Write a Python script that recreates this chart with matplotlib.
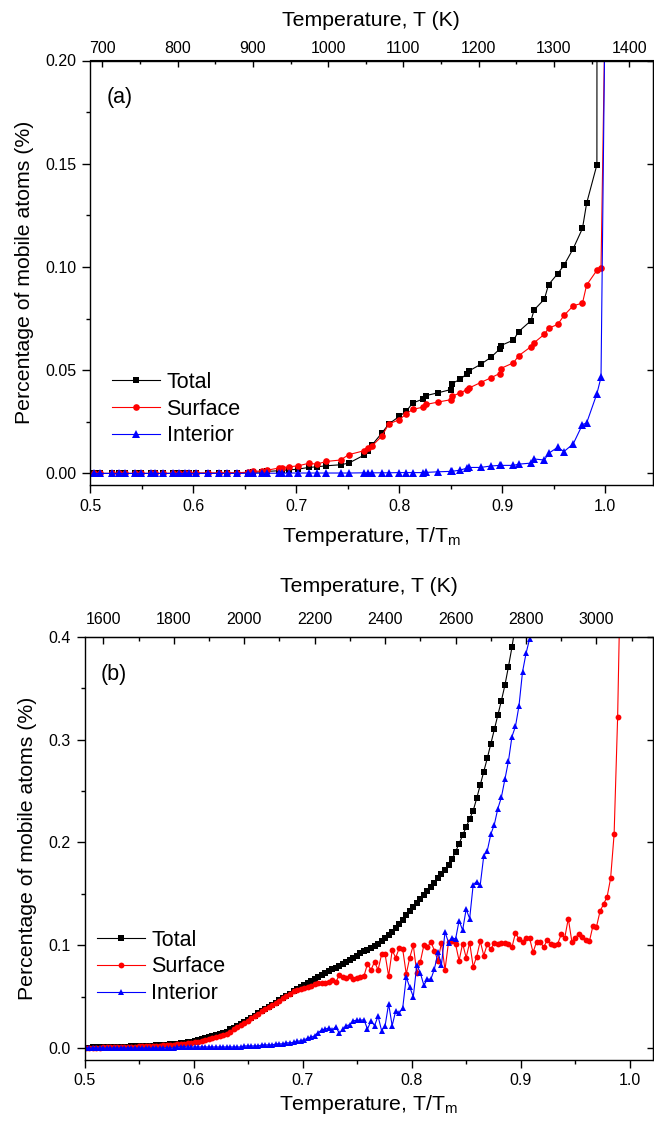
import numpy as np
import matplotlib
matplotlib.use('Agg')
import matplotlib.pyplot as plt
from matplotlib.ticker import MultipleLocator, FormatStrFormatter, NullLocator, FixedLocator

plt.rcParams['font.family'] = ['Liberation Sans', 'DejaVu Sans']
plt.rcParams['mathtext.fontset'] = 'custom'
plt.rcParams['mathtext.rm'] = 'Liberation Sans'

# ---------------- Panel (a) data ----------------
tm_a = 1368.0  # K, for top axis
ticks_k_a = [700, 800, 900, 1000, 1100, 1200, 1300, 1400]
x_a = [0.504, 0.509, 0.521, 0.528, 0.534, 0.543, 0.549, 0.559, 0.563, 0.571,
       0.580, 0.586, 0.592, 0.596, 0.603, 0.614, 0.625, 0.633, 0.642, 0.653,
       0.658, 0.667, 0.672, 0.683, 0.686, 0.693, 0.702, 0.712, 0.720, 0.729,
       0.743, 0.751, 0.766, 0.770, 0.774, 0.783, 0.790, 0.800, 0.807, 0.813,
       0.823, 0.826, 0.838, 0.850, 0.851, 0.859, 0.866, 0.868, 0.879, 0.889,
       0.8975, 0.8985, 0.911, 0.916, 0.928, 0.931, 0.941, 0.945, 0.954, 0.960,
       0.969, 0.978, 0.982, 0.992, 0.996, 1.000]
total_a = [0, 0, 0, 0, 0, 0, 0, 0, 0, 0,
           0, 0, 0.0001, 0.0001, 0.0001, 0.0001, 0.0001, 0.0002, 0.0002, 0.0004,
           0.0005, 0.0008, 0.0010, 0.0013, 0.0015, 0.0017, 0.0021, 0.0029, 0.0032, 0.0037,
           0.0042, 0.0050, 0.0089, 0.0110, 0.0140, 0.0195, 0.0240, 0.0276, 0.0302, 0.0341,
           0.0360, 0.0377, 0.0391, 0.0406, 0.0435, 0.0455, 0.0484, 0.0497, 0.0528, 0.0562,
           0.0602, 0.0619, 0.0646, 0.0687, 0.0740, 0.0792, 0.0844, 0.0914, 0.0968, 0.1008,
           0.1089, 0.1187, 0.1308, 0.1495, 4.0]
surface_a = [0, 0, 0, 0, 0, 0, 0, 0, 0, 0,
             0.0001, 0.0001, 0.0001, 0.0001, 0.0002, 0.0002, 0.0002, 0.0003, 0.0003, 0.0006,
             0.0010, 0.0012, 0.0016, 0.0026, 0.0028, 0.0032, 0.0037, 0.0049, 0.0045, 0.0058,
             0.0065, 0.0091, 0.0110, 0.0123, 0.0135, 0.0180, 0.0240, 0.0260, 0.0289, 0.0310,
             0.0321, 0.0334, 0.0346, 0.0357, 0.0373, 0.0390, 0.0406, 0.0414, 0.0440, 0.0463,
             0.0484, 0.0508, 0.0536, 0.0570, 0.0614, 0.0633, 0.0674, 0.0703, 0.0722, 0.0765,
             0.0812, 0.0825, 0.0912, 0.0984, 0.0994, 0.225]
interior_a = [0, 0, 0, 0, 0, 0, 0, 0, 0, 0,
              0, 0, 0, 0, 0, 0, 0, 0, 0, 0.0001,
              0.0001, 0.0001, 0.0001, 0.0001, 0.0001, 0.0002, 0.0002, 0.0002, 0.0002, 0.0002,
              0.0002, 0.0002, 0.0003, 0.0003, 0.0003, 0.0003, 0.0003, 0.0004, 0.0004, 0.0004,
              0.0004, 0.0005, 0.0008, 0.0010, 0.0010, 0.0016, 0.0026, 0.0029, 0.0029, 0.0036,
              0.0039, 0.0039, 0.0039, 0.0045, 0.0050, 0.0070, 0.0065, 0.0097, 0.0127, 0.0106,
              0.0143, 0.0237, 0.0244, 0.0386, 0.0466, 0.230]

# ---------------- Panel (b) data ----------------
tm_b = 3094.0  # K
ticks_k_b = [1600, 1800, 2000, 2200, 2400, 2600, 2800, 3000]
temp_b = [1550, 1560, 1570, 1580, 1590, 1600, 1610, 1620, 1630, 1640,
          1650, 1660, 1670, 1680, 1690, 1700, 1710, 1720, 1730, 1740,
          1750, 1760, 1770, 1780, 1790, 1800, 1810, 1820, 1830, 1840,
          1850, 1860, 1870, 1880, 1890, 1900, 1910, 1920, 1930, 1940,
          1950, 1960, 1970, 1980, 1990, 2000, 2010, 2020, 2030, 2040,
          2050, 2060, 2070, 2080, 2090, 2100, 2110, 2120, 2130, 2140,
          2150, 2160, 2170, 2180, 2190, 2200, 2210, 2220, 2230, 2240,
          2250, 2260, 2270, 2280, 2290, 2300, 2310, 2320, 2330, 2340,
          2350, 2360, 2370, 2380, 2390, 2400, 2410, 2420, 2430, 2440,
          2450, 2460, 2470, 2480, 2490, 2500, 2510, 2520, 2530, 2540,
          2550, 2560, 2570, 2580, 2590, 2600, 2610, 2620, 2630, 2640,
          2650, 2660, 2670, 2680, 2690, 2700, 2710, 2720, 2730, 2740,
          2750, 2760, 2770, 2780, 2790, 2800, 2810, 2820, 2830, 2840,
          2850, 2860, 2870, 2880, 2890, 2900, 2910, 2920, 2930, 2940,
          2950, 2960, 2970, 2980, 2990, 3000, 3010, 3020, 3030, 3040,
          3050, 3060, 3070]
total_b = [0.000, 0.000, 0.001, 0.001, 0.001, 0.001,
           0.001, 0.001, 0.001, 0.001, 0.001, 0.001, 0.001, 0.002, 0.002, 0.002,
           0.002, 0.002, 0.002, 0.002, 0.003, 0.003, 0.003, 0.003, 0.004, 0.004,
           0.004, 0.005, 0.005, 0.006, 0.006, 0.007, 0.008, 0.009, 0.010, 0.011,
           0.012, 0.013, 0.014, 0.015, 0.016, 0.018, 0.019, 0.021, 0.023, 0.025,
           0.027, 0.029, 0.031, 0.034, 0.036, 0.038, 0.040, 0.042, 0.044, 0.047,
           0.049, 0.051, 0.053, 0.055, 0.057, 0.059, 0.061, 0.063, 0.065, 0.067,
           0.069, 0.071, 0.073, 0.075, 0.077, 0.078, 0.080, 0.082, 0.084, 0.086,
           0.088, 0.090, 0.092, 0.094, 0.095, 0.097, 0.099, 0.101, 0.104, 0.107,
           0.110, 0.113, 0.117, 0.121, 0.125, 0.129, 0.133, 0.137, 0.141, 0.145,
           0.149, 0.153, 0.157, 0.161, 0.165, 0.169, 0.173, 0.178, 0.184, 0.191,
           0.199, 0.207, 0.215, 0.223, 0.231, 0.243, 0.256, 0.269, 0.282, 0.296,
           0.310, 0.324, 0.338, 0.353, 0.371, 0.390, 0.412]
surface_b = [0.000, 0.000, 0.000, 0.000, 0.000, 0.001,
             0.001, 0.001, 0.001, 0.001, 0.001, 0.001, 0.001, 0.001, 0.001, 0.002,
             0.002, 0.002, 0.002, 0.002, 0.002, 0.002, 0.003, 0.003, 0.003, 0.003,
             0.004, 0.004, 0.004, 0.005, 0.005, 0.006, 0.006, 0.007, 0.008, 0.009,
             0.010, 0.011, 0.012, 0.013, 0.014, 0.016, 0.018, 0.020, 0.022, 0.024,
             0.026, 0.029, 0.031, 0.033, 0.036, 0.038, 0.040, 0.042, 0.044, 0.046,
             0.049, 0.051, 0.053,
             0.0557, 0.056, 0.057, 0.058, 0.059, 0.0605, 0.062, 0.063, 0.063, 0.0634,
             0.0644, 0.066, 0.064, 0.071, 0.069, 0.068, 0.070, 0.067, 0.0686, 0.069,
             0.070, 0.082, 0.076, 0.084, 0.076, 0.091, 0.091, 0.070, 0.095, 0.088,
             0.097, 0.096, 0.072, 0.088, 0.100, 0.073, 0.084, 0.100, 0.098, 0.1036,
             0.0945, 0.085, 0.1026, 0.076, 0.103, 0.104, 0.101, 0.085, 0.1016, 0.088,
             0.1026, 0.079, 0.089, 0.104, 0.090, 0.101, 0.096, 0.1026, 0.1016, 0.1026,
             0.1026, 0.1016, 0.098, 0.112, 0.106, 0.1036, 0.107, 0.107, 0.093, 0.1036,
             0.1036, 0.098, 0.105, 0.1016, 0.100, 0.1016, 0.1107, 0.1074, 0.126, 0.1036,
             0.1074, 0.111, 0.108, 0.105, 0.104, 0.119, 0.118, 0.133, 0.140, 0.147,
             0.165, 0.208, 0.322, 0.50]
interior_b = [0.000, 0.000, 0.000, 0.000, 0.000, 0.000, 0.000, 0.000, 0.000, 0.000,
              0.000, 0.000, 0.000, 0.000, 0.000, 0.000, 0.000, 0.000, 0.000, 0.000,
              0.000, 0.000, 0.000, 0.000, 0.000, 0.000,
              0.001, 0.001, 0.001, 0.001, 0.001, 0.001, 0.001, 0.001, 0.001, 0.001,
              0.001, 0.001, 0.001, 0.001, 0.001,
              0.001, 0.001, 0.001, 0.001, 0.002, 0.002, 0.002, 0.002, 0.002, 0.003,
              0.003, 0.003, 0.003, 0.004, 0.004, 0.004, 0.005, 0.005,
              0.0055, 0.0065, 0.007, 0.008, 0.0094, 0.0104, 0.012, 0.015, 0.0175, 0.0184,
              0.0194, 0.0175, 0.0207, 0.0142, 0.0184, 0.0217, 0.0227, 0.0265, 0.027, 0.027,
              0.0275, 0.0184, 0.0265, 0.0217, 0.031, 0.0168, 0.0217, 0.043, 0.0217, 0.036,
              0.034, 0.039, 0.069, 0.059, 0.050, 0.081, 0.073, 0.061, 0.067, 0.067,
              0.077, 0.093, 0.081, 0.113, 0.1026, 0.1074, 0.106, 0.124, 0.1146, 0.135,
              0.126, 0.159, 0.162, 0.1586, 0.187, 0.192, 0.208, 0.2175, 0.233, 0.244,
              0.2615, 0.279, 0.303, 0.313, 0.333, 0.366, 0.384, 0.398, 0.43]

series_names = ['Total', 'Surface', 'Interior']
colors = ['#000000', '#FF0000', '#0000FF']
markers = ['s', 'o', '^']

W, H = 654, 1129
fig = plt.figure(figsize=(W / 100, H / 100), dpi=100)


def add_axes(left, top, right, bottom):
    return fig.add_axes([left / W, 1 - bottom / H, (right - left) / W, (bottom - top) / H])


axa = add_axes(90.3, 60.5, 652.5, 485)
axb = add_axes(84.6, 637, 652.5, 1059.5)

TICK_FS = 11.5
LABEL_FS = 15.3


def style(ax, xlim, ylim, ymaj, ymin, yfmt, tm, kticks, kstep, letter,
          toppad, toplabelpad, botlabelpad):
    ax.set_xlim(*xlim)
    ax.set_ylim(*ylim)
    ax.xaxis.set_major_locator(MultipleLocator(0.1))
    ax.xaxis.set_minor_locator(MultipleLocator(0.05))
    ax.xaxis.set_major_formatter(FormatStrFormatter('%.1f'))
    ax.yaxis.set_major_locator(MultipleLocator(ymaj))
    ax.yaxis.set_minor_locator(MultipleLocator(ymin))
    ax.yaxis.set_major_formatter(FormatStrFormatter(yfmt))
    ax.tick_params(axis='both', which='major', direction='out', length=5.5, width=1.0,
                   labelsize=TICK_FS, pad=4.5, top=False, right=False)
    ax.tick_params(axis='both', which='minor', direction='out', length=3.2, width=1.0,
                   top=False, right=False)
    for sp in ax.spines.values():
        sp.set_linewidth(1.0)
    ax.set_xlabel('Temperature, T/T$_\\mathregular{m}$', fontsize=LABEL_FS,
                  labelpad=botlabelpad)
    ax.set_ylabel('Percentage of mobile atoms (%)', fontsize=LABEL_FS, labelpad=8)

    sec = ax.secondary_xaxis('top', functions=(lambda x: x * tm, lambda t: t / tm))
    kmin, kmax = xlim[0] * tm, xlim[1] * tm
    minors = [k + kstep / 2 for k in kticks] + [kticks[0] - kstep / 2]
    minors = [k for k in minors if kmin < k < kmax]
    sec.xaxis.set_major_locator(FixedLocator(kticks))
    sec.xaxis.set_minor_locator(FixedLocator(minors))
    sec.tick_params(axis='x', which='major', direction='in', length=5.0, width=1.0,
                    labelsize=TICK_FS, pad=toppad)
    sec.tick_params(axis='x', which='minor', direction='in', length=3.2, width=1.0)
    sec.set_xlabel('Temperature, T (K)', fontsize=LABEL_FS, labelpad=toplabelpad)

    secy = ax.secondary_yaxis('right', functions=(lambda y: y, lambda y: y))
    secy.yaxis.set_major_locator(MultipleLocator(ymaj))
    secy.yaxis.set_minor_locator(NullLocator())
    secy.tick_params(axis='y', which='major', direction='in', length=4.0, width=1.0,
                     labelright=False)

    ax.text(0.029, 0.912, letter, transform=ax.transAxes, fontsize=15.5,
            ha='left', va='center')


def draw(ax, x, ys, msizes):
    for name, y, c, m, ms in zip(series_names, ys, colors, markers, msizes):
        n = len(y)
        ax.plot(x[:n], y, color=c, marker=m, markersize=ms, lw=0.8,
                markeredgewidth=0, label=name)


draw(axa, np.array(x_a), [total_a, surface_a, interior_a], [4.3, 4.8, 5.4])
xb = np.array(temp_b, dtype=float) / tm_b
draw(axb, xb, [total_b, surface_b, interior_b], [3.8, 4.2, 5.0])

style(axa, (0.5, 1.046), (-0.0056, 0.2), 0.05, 0.025, '%.2f', tm_a, ticks_k_a, 100,
      '(a)', 3.5, 10.5, 8)
style(axb, (0.5, 1.021), (-0.0112, 0.4), 0.1, 0.05, '%.1f', tm_b, ticks_k_b, 200,
      '(b)', 7.5, 14, 3.5)

for ax, xy in ((axa, (0.038, 0.179)), (axb, (0.021, 0.219))):
    ax.legend(loc='center left', bbox_to_anchor=xy, frameon=False, fontsize=15.5,
              handlelength=2.25, handletextpad=0.3, labelspacing=0.27,
              borderpad=0, borderaxespad=0, numpoints=1)

fig.savefig('out.png', dpi=100)
